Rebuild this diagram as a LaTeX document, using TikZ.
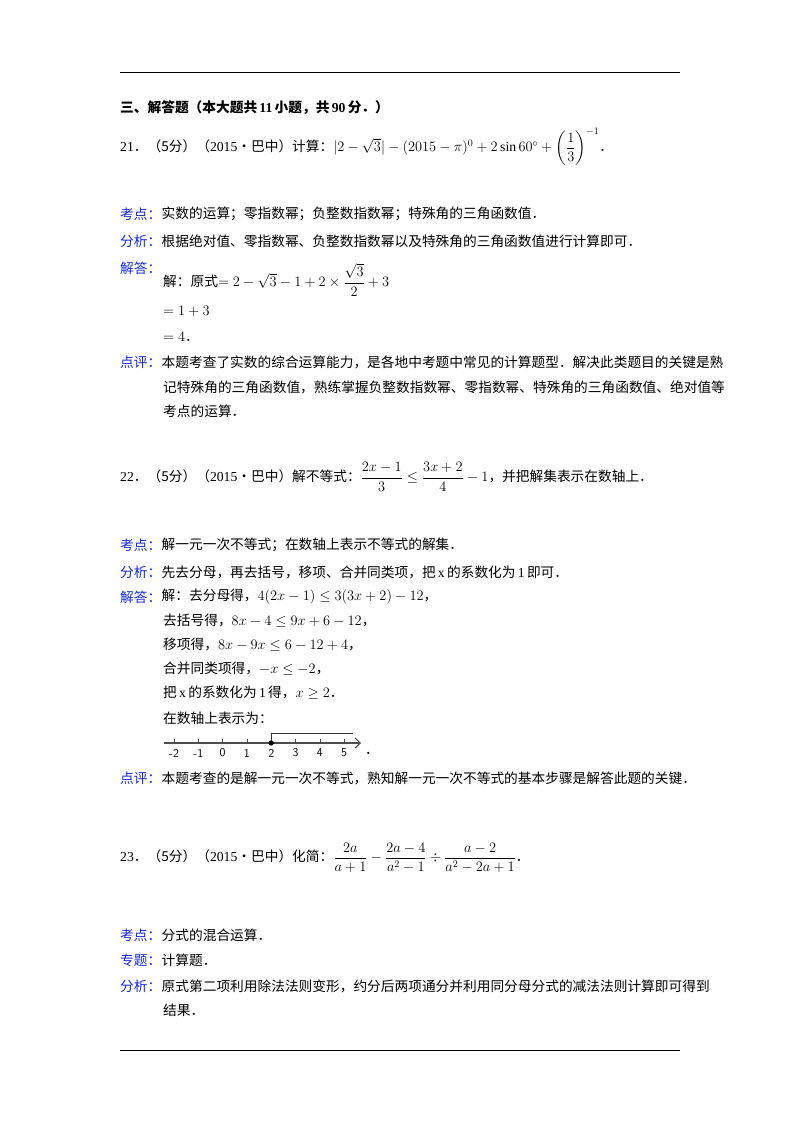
\documentclass[tikz,border=0pt]{standalone}
\usepackage{amsmath}
\usepackage{fontspec}
\usetikzlibrary{positioning,arrows.meta}
\setmainfont{Liberation Serif}
\newfontfamily\cjk{Noto Sans CJK SC}
\newcommand{\zd}{{\cjk ．}}
\definecolor{lblblue}{RGB}{20,40,230}
\begin{document}
\begin{tikzpicture}[
    x=1pt, y=-1pt,
    txt/.style = {anchor=west, inner sep=0pt, font=\fontsize{13.7}{15}\selectfont},
    lbl/.style = {txt, text=lblblue, font=\fontsize{13.7}{15}\selectfont\cjk},
    rule/.style = {line width=0.9pt},
    axis/.style = {line width=1.2pt, gray!60!black, -{Straight Barb[length=5pt]}}
  ]
  \useasboundingbox (0,0) rectangle (800,1132);
  \draw[rule] (120,72) -- (680,72);
  \draw[rule] (120,1050) -- (680,1050);

  % section title
  \node[txt, font=\fontsize{13.7}{15}\selectfont\cjk\bfseries] (sec) at (120,108) {三、解答题（本大题共\,\textrm{11}\,小题，共\,\textrm{90}\,分．）};

  % problem 21
  \node[txt] (p21) at (120,147) {21\zd{\cjk（5分）（}2015{\cjk •巴中）计算：}$|2-\sqrt{3}|-(2015-\pi)^{0}+2\sin60^{\circ}+\left(\dfrac{1}{3}\right)^{-1}$\zd};
  \node[lbl] (k21) at (120,214) {考点：};
  \node[txt, right=0pt of k21] (k21t) {\cjk 实数的运算；零指数幂；负整数指数幂；特殊角的三角函数值．};
  \node[lbl] (f21) at (120,241) {分析：};
  \node[txt, right=0pt of f21] (f21t) {\cjk 根据绝对值、零指数幂、负整数指数幂以及特殊角的三角函数值进行计算即可．};
  \node[lbl] (j21) at (120,268) {解答：};
  \node[txt] (s21a) at (163,280) {{\cjk 解：原式}$=2-\sqrt{3}-1+2\times\dfrac{\sqrt{3}}{2}+3$};
  \node[txt] (s21b) at (163,311) {$=1+3$};
  \node[txt] (s21c) at (163,337) {$=4$\zd};
  \node[lbl] (d21) at (120,362) {点评：};
  \node[txt, right=0pt of d21] (d21a) {\cjk 本题考查了实数的综合运算能力，是各地中考题中常见的计算题型．解决此类题目的关键是熟};
  \node[txt] (d21b) at (163,387) {\cjk 记特殊角的三角函数值，熟练掌握负整数指数幂、零指数幂、特殊角的三角函数值、绝对值等};
  \node[txt] (d21c) at (163,411) {\cjk 考点的运算．};

  % problem 22
  \node[txt] (p22) at (120,477) {22\zd{\cjk（5分）（}2015{\cjk •巴中）解不等式：}$\dfrac{2x-1}{3}\leq\dfrac{3x+2}{4}-1${\cjk ，并把解集表示在数轴上．}};
  \node[lbl] (k22) at (120,545) {考点：};
  \node[txt, right=0pt of k22] (k22t) {\cjk 解一元一次不等式；在数轴上表示不等式的解集．};
  \node[lbl] (f22) at (120,572) {分析：};
  \node[txt, right=0pt of f22] (f22t) {{\cjk 先去分母，再去括号，移项、合并同类项，把}\,x\,{\cjk 的系数化为}\,1\,{\cjk 即可．}};
  \node[lbl] (j22) at (120,597) {解答：};
  \node[txt, right=0pt of j22] (s22a) {{\cjk 解：去分母得，}$4(2x-1)\leq3(3x+2)-12${\cjk ，}};
  \node[txt] (s22b) at (163,621) {{\cjk 去括号得，}$8x-4\leq9x+6-12${\cjk ，}};
  \node[txt] (s22c) at (163,645) {{\cjk 移项得，}$8x-9x\leq6-12+4${\cjk ，}};
  \node[txt] (s22d) at (163,669) {{\cjk 合并同类项得，}$-x\leq-2${\cjk ，}};
  \node[txt] (s22e) at (163,693) {{\cjk 把}\,x\,{\cjk 的系数化为}\,1\,{\cjk 得，}$x\geq2$\zd};
  \node[txt] (s22f) at (163,718) {\cjk 在数轴上表示为：};

  % number line
  \coordinate (ax0) at (164,743);
  \coordinate (ax1) at (361,743);
  \draw[axis] (ax0) -- (ax1);
  \foreach \v [count=\i from 0] in {-2,-1,0,1,2,3,4,5} {
    \coordinate (t\i) at (174+24.3*\i,743);
    \draw[gray!60!black] (t\i) -- ++(0,-4);
    \node[font=\sffamily\fontsize{12}{14}\selectfont, inner sep=0pt] (n\i) at (174+24.3*\i,753) {\v};
  }
  \coordinate (sol) at (353,733);
  \draw[line width=0.9pt, gray!40!black] (t4) |- (sol);
  \fill (t4) circle (2.6pt);
  \node[txt] (dot22) at (365,753) {\zd};

  \node[lbl] (d22) at (120,778) {点评：};
  \node[txt, right=0pt of d22] (d22t) {\cjk 本题考查的是解一元一次不等式，熟知解一元一次不等式的基本步骤是解答此题的关键．};

  % problem 23
  \node[txt] (p23) at (120,858) {23\zd{\cjk（5分）（}2015{\cjk •巴中）化简：}$\dfrac{2a}{a+1}-\dfrac{2a-4}{a^{2}-1}\div\dfrac{a-2}{a^{2}-2a+1}$\zd};
  \node[lbl] (k23) at (120,935) {考点：};
  \node[txt, right=0pt of k23] (k23t) {\cjk 分式的混合运算．};
  \node[lbl] (z23) at (120,960) {专题：};
  \node[txt, right=0pt of z23] (z23t) {\cjk 计算题．};
  \node[lbl] (f23) at (120,986) {分析：};
  \node[txt, right=0pt of f23] (f23a) {\cjk 原式第二项利用除法法则变形，约分后两项通分并利用同分母分式的减法法则计算即可得到};
  \node[txt] (f23b) at (163,1010) {\cjk 结果．};
\end{tikzpicture}
\end{document}
